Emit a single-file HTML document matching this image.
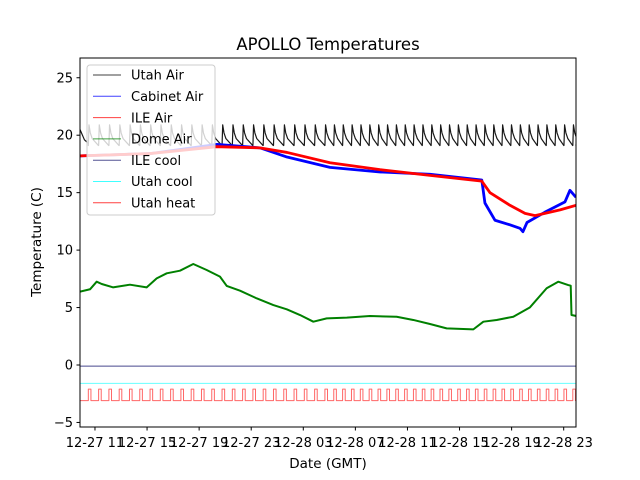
<!DOCTYPE html>
<html><head><meta charset="utf-8"><style>
body{margin:0;background:#fff}
svg{display:block;font-family:"DejaVu Sans","Liberation Sans",sans-serif}
</style></head><body>
<svg id="chart" width="640" height="480" viewBox="0 0 640 480" xmlns="http://www.w3.org/2000/svg">
<defs><clipPath id="clip"><rect x="80" y="58" width="496" height="369"/></clipPath></defs>
<rect width="640" height="480" fill="#fff"/>
<text x="328" y="50" text-anchor="middle" font-size="16.5">APOLLO Temperatures</text>
<text x="328" y="468" text-anchor="middle" font-size="13.5">Date (GMT)</text>
<text transform="translate(41,242) rotate(-90)" text-anchor="middle" font-size="13.5">Temperature (C)</text>
<g id="series" clip-path="url(#clip)"></g>
<g id="axes"></g>
<g id="legend"></g>
</svg>
<script>
const xTickHours=[11,15,19,23,27,31,35,39,43,47];
const xTickLabels=["12-27 11","12-27 15","12-27 19","12-27 23","12-28 03","12-28 07","12-28 11","12-28 15","12-28 19","12-28 23"];
const yTicks=[-5,0,5,10,15,20,25];
const domeTimes=[9.85,10.62,11.13,11.52,12.38,13.69,14.97,15.74,16.51,17.53,18.55,19.58,20.60,21.12,22.14,23.42,24.70,25.73,26.75,27.77,28.80,30.34,32.12,34.17,35.45,36.73,38.01,40.06,40.83,41.85,43.13,44.41,45.69,46.58,47.35,47.54,47.60,47.99];
const domeValues=[6.38,6.59,7.25,7.05,6.76,6.99,6.76,7.54,7.98,8.21,8.79,8.27,7.69,6.88,6.47,5.80,5.22,4.85,4.35,3.77,4.06,4.12,4.26,4.20,3.92,3.57,3.19,3.10,3.77,3.92,4.20,5.02,6.68,7.25,6.96,6.9,4.35,4.26];
const cabinetTimes=[9.85,15.23,20.37,23.67,25.75,29.05,32.89,36.73,40.71,40.95,41.72,42.87,43.64,43.87,44.18,45.56,47.10,47.48,47.94];
const cabinetValues=[18.2,18.4,19.2,18.9,18.1,17.2,16.8,16.6,16.1,14.1,12.6,12.2,11.9,11.6,12.4,13.3,14.2,15.2,14.6];
const ileTimes=[9.85,15.23,20.37,23.67,25.75,29.05,32.89,36.73,40.71,41.34,42.87,44.03,44.80,46.72,47.94];
const ileValues=[18.2,18.4,19.0,18.9,18.5,17.6,17.0,16.5,16.0,15.0,13.9,13.2,13.0,13.5,13.9];
const cycleStarts=[10.49,11.28,12.07,12.86,13.65,14.44,15.23,16.02,16.81,17.60,18.39,19.18,19.97,20.76,21.55,22.34,23.13,23.92,24.71,25.50,26.29,27.08,27.87,28.66,29.34,30.02,30.70,31.38,32.06,32.74,33.42,34.10,34.78,35.46,36.14,36.82,37.50,38.18,38.86,39.54,40.22,40.90,41.58,42.26,42.94,43.62,44.30,44.98,45.66,46.34,47.02,47.70];
const utahPeak=[20.9];
const utahTrough=[19.1];
const ileCoolValue=[-0.1];
const utahCoolValue=[-1.6];
const heatLevels=[-3.1,-2.1];
const tStart=9.85,tEnd=47.95;

const NS="http://www.w3.org/2000/svg";
const X=t=>80+(t-tStart)*13.02;
const Y=v=>365-v*11.49;
function mk(tag,attrs,parent){const e=document.createElementNS(NS,tag);for(const k in attrs)e.setAttribute(k,attrs[k]);parent.appendChild(e);return e;}
const series=document.getElementById('series');
function line(ts,vs,color,w,op,name){
  const d=ts.map((t,i)=>(i?'L':'M')+X(t).toFixed(2)+','+Y(vs[i]).toFixed(2)).join('');
  const p=mk('path',{d:d,fill:'none',stroke:color,'stroke-width':w,'stroke-opacity':op,'stroke-linejoin':'round'},series);
  
  
}
{const ts=[tStart,cycleStarts[0]-0.3,cycleStarts[0]],vs=[20.5,19.6,utahTrough[0]+0.2];
 cycleStarts.forEach((c,i)=>{const n=i+1<cycleStarts.length?cycleStarts[i+1]:tEnd;
  ts.push(c,c+0.05,c+0.15,c+0.3,n-0.01);vs.push(utahTrough[0],utahPeak[0],20.2,19.7,utahTrough[0]);});
 line(ts,vs,'#000',1.2,0.9,'utah-air-line');}
line(cabinetTimes,cabinetValues,'#0000ff',2.8,1,'cabinet-air-line');
line(ileTimes,ileValues,'#ff0000',2.8,1,'ile-air-line');
line(domeTimes,domeValues,'#008000',2,1,'dome-air-line');
line([tStart,tEnd],[ileCoolValue[0],ileCoolValue[0]],'#191970',1,0.8,'ile-cool-line');
line([tStart,tEnd],[utahCoolValue[0],utahCoolValue[0]],'#00ffff',1,0.6,'utah-cool-line');
{const ts=[tStart],vs=[heatLevels[0]];
 cycleStarts.forEach(c=>{ts.push(c,c,c+0.2,c+0.2);vs.push(heatLevels[0],heatLevels[1],heatLevels[1],heatLevels[0]);});
 ts.push(tEnd);vs.push(heatLevels[0]);
 line(ts,vs,'#ff0000',1,0.6,'utah-heat-line');}

const axes=document.getElementById('axes');
const frame=mk('rect',{x:80,y:58,width:496,height:369,fill:'none',stroke:'#000','stroke-width':1},axes);


xTickHours.forEach((h,i)=>{const x=X(h);
  const tk=mk('line',{x1:x,x2:x,y1:427,y2:430.5,stroke:'#000'},axes);
  
  
  const tx=mk('text',{x:x,y:447,'text-anchor':'middle','font-size':13},axes);tx.textContent=xTickLabels[i];
  
  });
yTicks.forEach(v=>{const y=Y(v);
  const tk=mk('line',{x1:76.5,x2:80,y1:y,y2:y,stroke:'#000'},axes);
  
  
  const tx=mk('text',{x:73,y:y+4.5,'text-anchor':'end','font-size':13},axes);tx.textContent=v<0?'\u2212'+(-v):String(v);
  
  });

const legendNames=["Utah Air","Cabinet Air","ILE Air","Dome Air","ILE cool","Utah cool","Utah heat"];
const legendColors=["#000","#0000ff","#ff0000","#008000","#191970","#00ffff","#ff0000"];
const lg=document.getElementById('legend');


mk('rect',{x:87,y:65,width:128,height:150,rx:3,fill:'#fff','fill-opacity':0.8,stroke:'#ccc','stroke-width':1},lg);
legendNames.forEach((n,i)=>{const y=75+i*21.3;
  const g=mk('g',{},lg);
  
  
  mk('line',{x1:93,x2:121,y1:y,y2:y,stroke:legendColors[i],'stroke-width':1,'stroke-opacity':0.75},g);
  const t=mk('text',{x:131,y:y+4.7,'font-size':13},g);t.textContent=n;});
</script>
</body></html>
